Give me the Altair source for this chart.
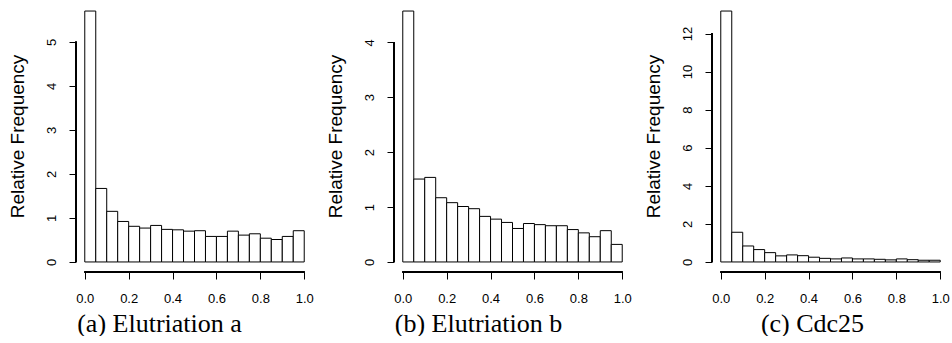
import altair as alt
import pandas as pd

bin_start = [0.00, 0.05, 0.10, 0.15, 0.20, 0.25, 0.30, 0.35, 0.40, 0.45,
             0.50, 0.55, 0.60, 0.65, 0.70, 0.75, 0.80, 0.85, 0.90, 0.95]
bin_width = 0.05

density_a = [5.70, 1.67, 1.15, 0.92, 0.81, 0.77, 0.83, 0.74, 0.73, 0.70,
             0.71, 0.58, 0.58, 0.70, 0.61, 0.64, 0.54, 0.51, 0.58, 0.71]
density_b = [4.57, 1.51, 1.54, 1.17, 1.08, 1.01, 0.97, 0.83, 0.78, 0.72,
             0.61, 0.70, 0.68, 0.66, 0.66, 0.59, 0.53, 0.46, 0.57, 0.32]
density_c = [13.18, 1.56, 0.84, 0.65, 0.49, 0.32, 0.37, 0.33, 0.25, 0.19,
             0.16, 0.21, 0.16, 0.16, 0.14, 0.11, 0.16, 0.12, 0.09, 0.09]

yticks_a = [0, 1, 2, 3, 4, 5]
yticks_b = [0, 1, 2, 3, 4]
yticks_c = [0, 2, 4, 6, 8, 10, 12]
xticks = [0.0, 0.2, 0.4, 0.6, 0.8, 1.0]

captions = ["(a) Elutriation a", "(b) Elutriation b", "(c) Cdc25"]
caption_x = [83, 84, 100]

W = 237
H = 271
SANS = "Liberation Sans"
SERIF = "Liberation Serif"


def panel(values, yticks, caption, cap_x):
    df = pd.DataFrame({"start": bin_start, "density": values})
    ymax = max(values)
    ydom = [-0.04 * ymax, 1.04 * ymax]
    xscale = alt.Scale(domain=[-0.04, 1.04], nice=False, zero=False)
    yscale = alt.Scale(domain=ydom, nice=False, zero=False)

    xaxis = alt.Axis(
        values=xticks, format=".1f", domain=False, grid=False,
        tickSize=7, tickColor="black", tickWidth=1,
        labelFont=SANS, labelFontSize=13, labelColor="black",
        labelBaseline="alphabetic", labelPadding=23, labelFlush=False,
        title=caption, titleFont=SERIF, titleFontSize=26,
        titleFontWeight="normal", titleColor="black",
        titleX=cap_x, titleY=59, titleAlign="center",
        titleBaseline="alphabetic",
    )
    yaxis = alt.Axis(
        values=yticks, format="d", domain=False, grid=False,
        tickSize=7, tickColor="black", tickWidth=1,
        labelFont=SANS, labelFontSize=13, labelColor="black",
        labelAngle=270, labelAlign="center", labelBaseline="alphabetic",
        labelPadding=14, labelFlush=False,
        title="Relative Frequency", titleFont=SANS, titleFontSize=19,
        titleFontWeight="normal", titleColor="black", titleAngle=270,
        titleX=-53, titleY=135, titleAlign="center",
        titleBaseline="alphabetic",
    )

    bars = alt.Chart(df).transform_calculate(
        end=f"datum.start + {bin_width}"
    ).mark_bar(fill="white", stroke="black", strokeWidth=1).encode(
        x=alt.X("start:Q", scale=xscale, axis=xaxis),
        x2="end:Q",
        y=alt.Y("density:Q", scale=yscale, axis=yaxis),
        y2=alt.datum(0),
    )
    yline = alt.Chart(df).mark_rule(color="black", strokeWidth=1).encode(
        x=alt.value(0),
        y=alt.datum(yticks[0]),
        y2=alt.datum(yticks[-1]),
    )
    xline = alt.Chart(df).mark_rule(color="black", strokeWidth=1).encode(
        y=alt.value(H),
        x=alt.datum(xticks[0]),
        x2=alt.datum(xticks[-1]),
    )
    return alt.layer(bars, yline, xline).properties(width=W, height=H)


chart = alt.hconcat(
    panel(density_a, yticks_a, captions[0], caption_x[0]),
    panel(density_b, yticks_b, captions[1], caption_x[1]),
    panel(density_c, yticks_c, captions[2], caption_x[2]),
    spacing=81,
    bounds="flush",
).properties(
    padding={"left": 8, "top": 1, "right": 0, "bottom": 0},
    background="white",
).configure_view(stroke=None)

chart.save("out.html", embed_options={"renderer": "svg", "actions": False})
